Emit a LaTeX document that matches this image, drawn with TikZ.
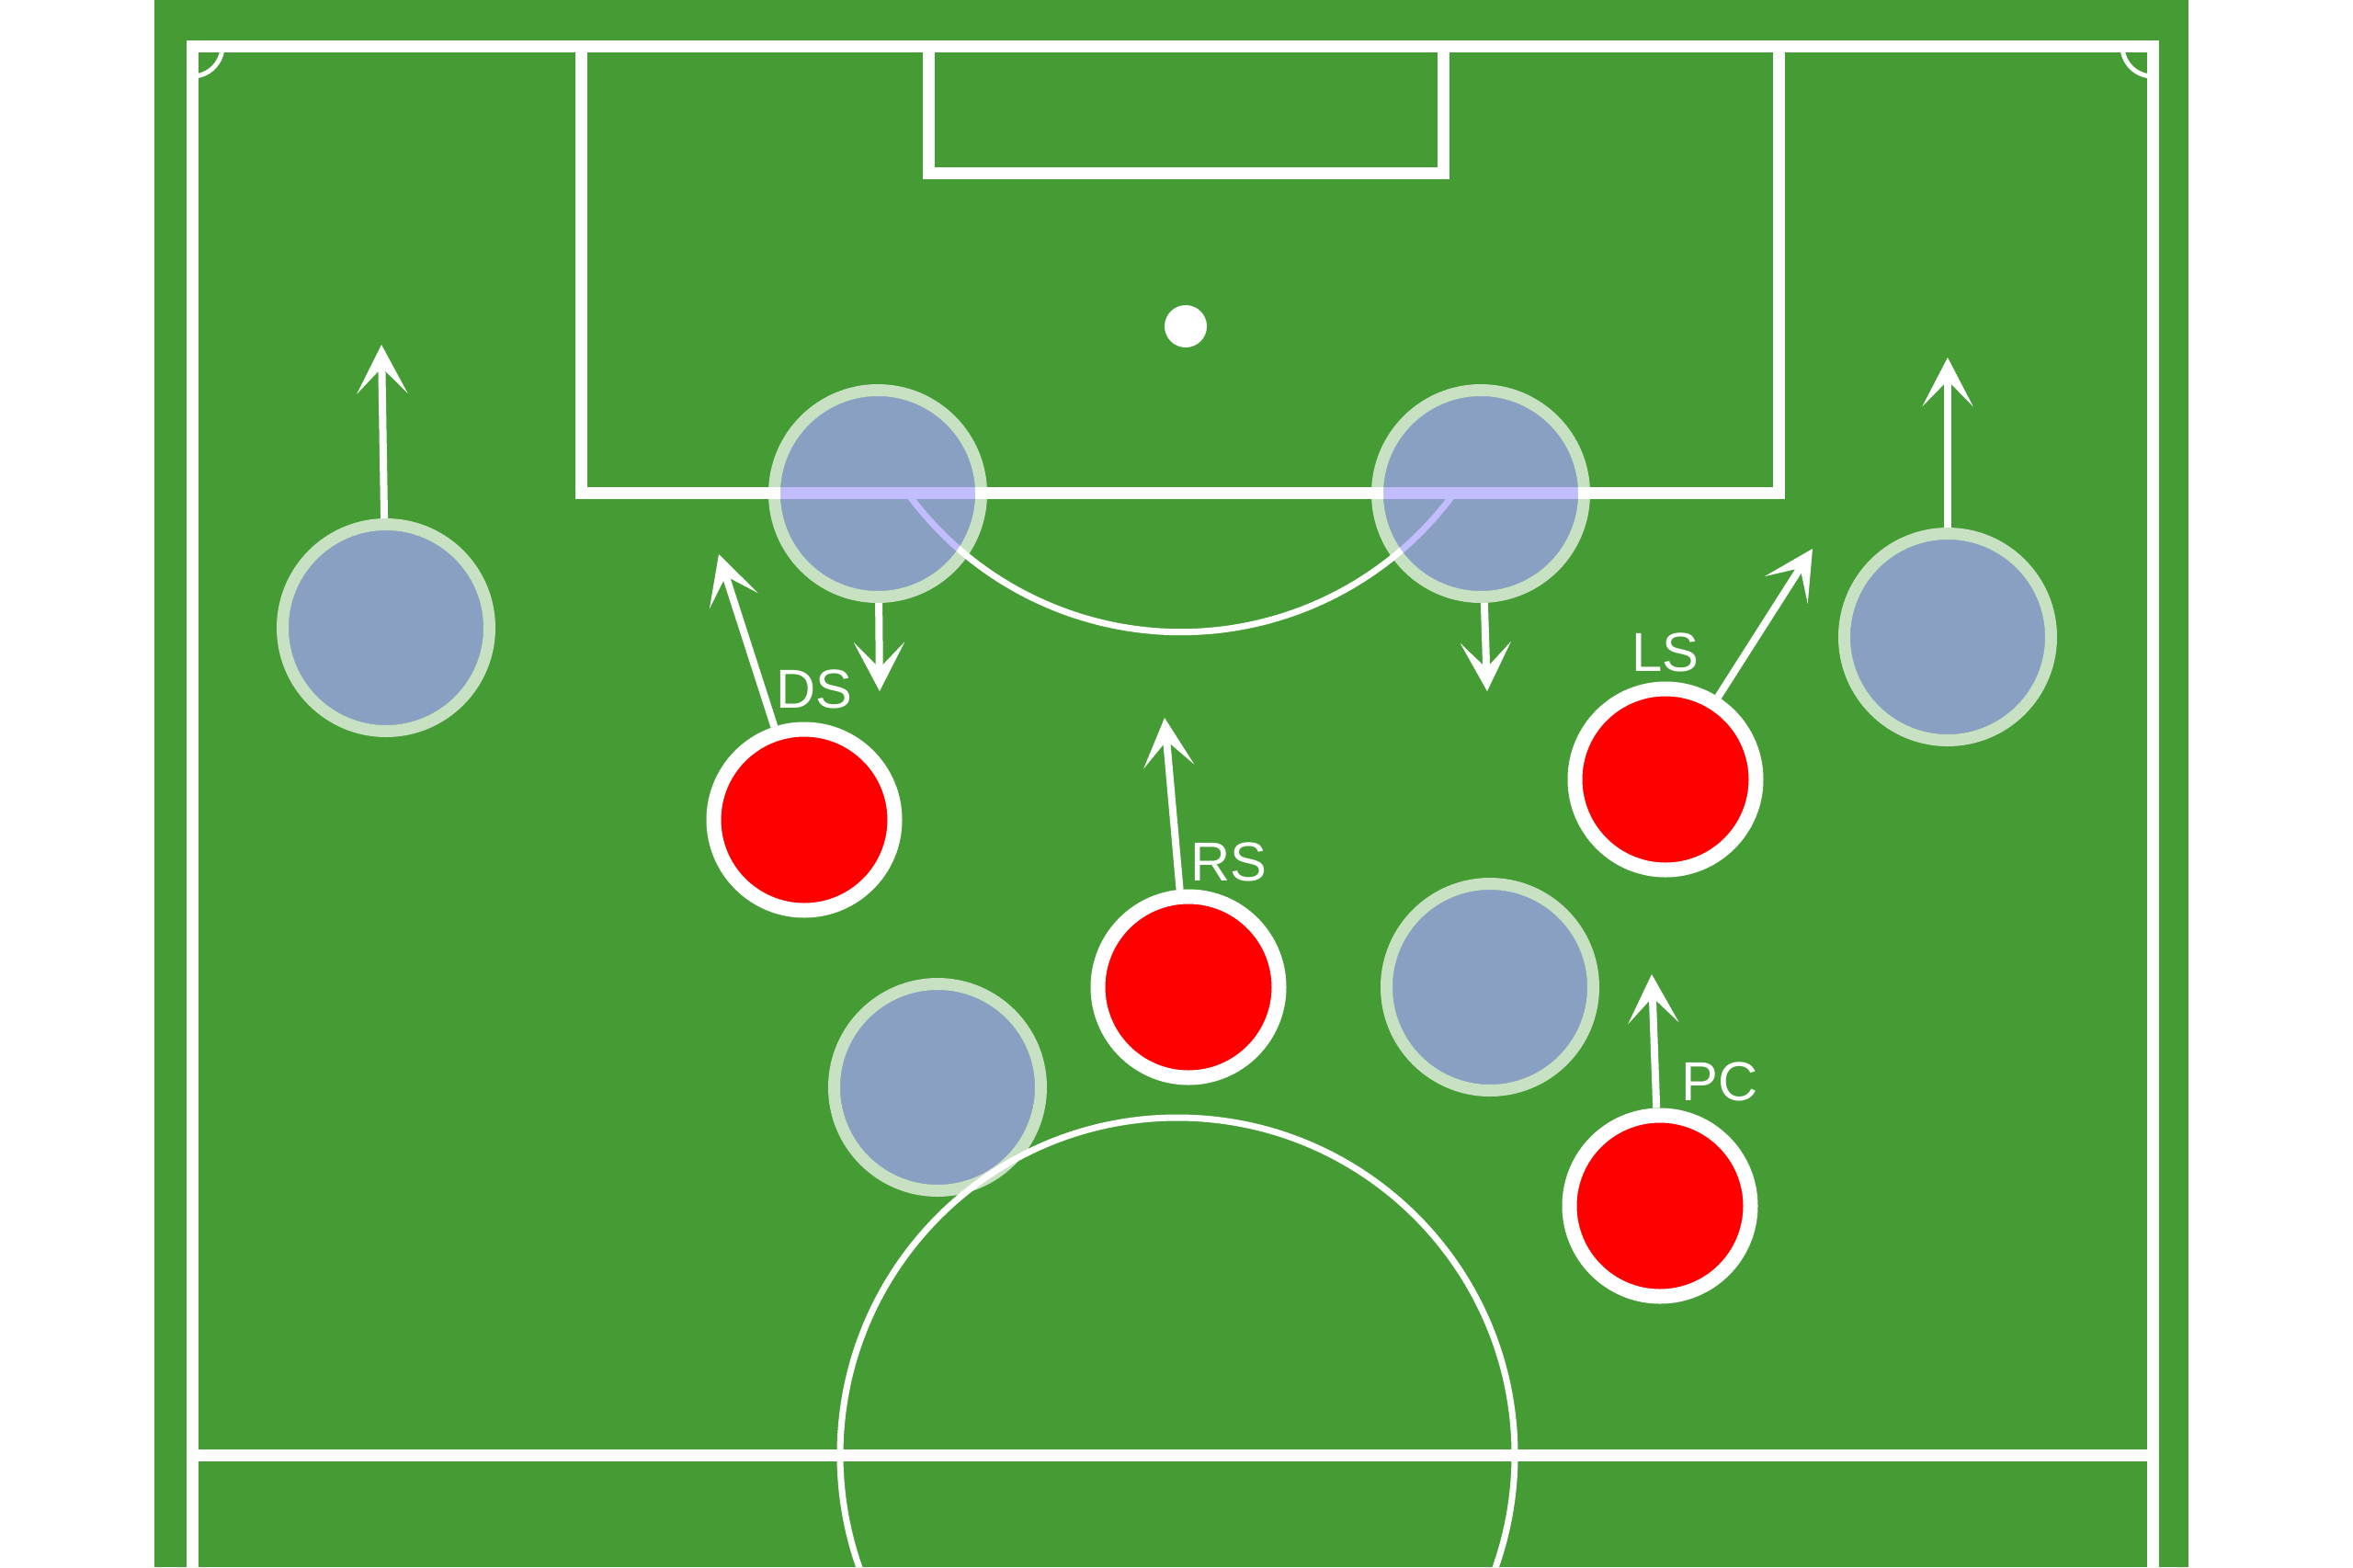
\documentclass[tikz,border=0pt]{standalone}
\usepackage{fontspec}
\setmainfont{Liberation Sans}
\usetikzlibrary{arrows.meta}
\definecolor{pitch}{HTML}{459C35}
\definecolor{shirt}{HTML}{A8A2FF}
\tikzset{
  pitchline/.style={draw=white, line width=0.13cm},
  thinline/.style={draw=white, line width=0.07cm},
  away/.style={circle, inner sep=0pt, minimum size=2.12cm, outer sep=0.13cm, fill=shirt, fill opacity=0.7},
  ring/.style={draw=white, draw opacity=0.7, line width=0.13cm},
  home/.style={circle, inner sep=0pt, minimum size=1.97cm, fill=red, draw=white, line width=0.16cm},
  run/.style={draw=white, line width=0.08cm, -{Stealth[length=0.53cm, width=0.55cm, inset=0.28cm]}},
  tag/.style={text=white, inner sep=0pt, font=\fontsize{17}{19}\selectfont}
}
\begin{document}
\begin{tikzpicture}
    \path[use as bounding box, clip] (0,0) rectangle (25.6,-17.05);
    \fill[white] (0,0) rectangle (25.6,-17.05);
    \fill[pitch] (1.68,0) rectangle (23.81,-17.05);
    \draw[pitchline] (2.09,-17.3) |- (23.42,-0.50) -- (23.42,-17.3);
    \draw[pitchline] (2.09,-15.83) -- (23.42,-15.83);
    \draw[pitchline] (6.32,-0.50) |- (19.35,-5.36) -- (19.35,-0.50);
    \draw[pitchline] (10.10,-0.50) |- (15.70,-1.88) -- (15.70,-0.50);
    \draw[thinline, line width=0.05cm] (2.42,-0.50) arc[start angle=0, end angle=-90, radius=0.33];
    \draw[thinline, line width=0.05cm] (23.09,-0.50) arc[start angle=180, end angle=270, radius=0.33];
    \fill[white] (12.90,-3.55) circle (0.23);
    \draw[thinline] (9.87,-5.36) arc[start angle=-144, end angle=-36, radius=3.68];
    \draw[thinline] (12.81,-15.83) circle (3.67);
    \node[away] (w1) at (4.20,-6.83) {};
    \node[away] (w2) at (9.55,-5.37) {};
    \node[away] (w3) at (16.11,-5.37) {};
    \node[away] (w4) at (21.19,-6.93) {};
    \node[away] (w5) at (10.20,-11.83) {};
    \node[away] (w6) at (16.21,-10.74) {};
    \foreach \p in {w1,w2,w3,w4,w5,w6}
        \draw[ring] (\p.center) circle (1.125);
    \node[home] (ds) at (8.75,-8.92) {};
    \node[home] (rs) at (12.93,-10.74) {};
    \node[home] (ls) at (18.12,-8.48) {};
    \node[home] (pc) at (18.06,-13.12) {};
    \coordinate (w1-to) at (4.15,-3.75);
    \coordinate (w4-to) at (21.19,-3.89);
    \coordinate (w2-to) at (9.57,-7.52);
    \coordinate (w3-to) at (16.18,-7.52);
    \coordinate (ds-to) at (7.82,-6.03);
    \coordinate (rs-to) at (12.67,-7.81);
    \coordinate (ls-to) at (19.72,-5.97);
    \coordinate (pc-to) at (17.97,-10.60);
    \draw[run] (w1) -- (w1-to);
    \draw[run] (w4) -- (w4-to);
    \draw[run] (w2) -- (w2-to);
    \draw[run] (w3) -- (w3-to);
    \draw[run] (ds) -- (ds-to);
    \draw[run] (rs) -- (rs-to);
    \draw[run] (ls) -- (ls-to);
    \draw[run] (pc) -- (pc-to);
    \node[tag] (ds-lab) at (8.86,-7.50) {DS};
    \node[tag] (rs-lab) at (13.37,-9.38) {RS};
    \node[tag] (ls-lab) at (18.12,-7.10) {LS};
    \node[tag] (pc-lab) at (18.71,-11.77) {PC};
\end{tikzpicture}
\end{document}
